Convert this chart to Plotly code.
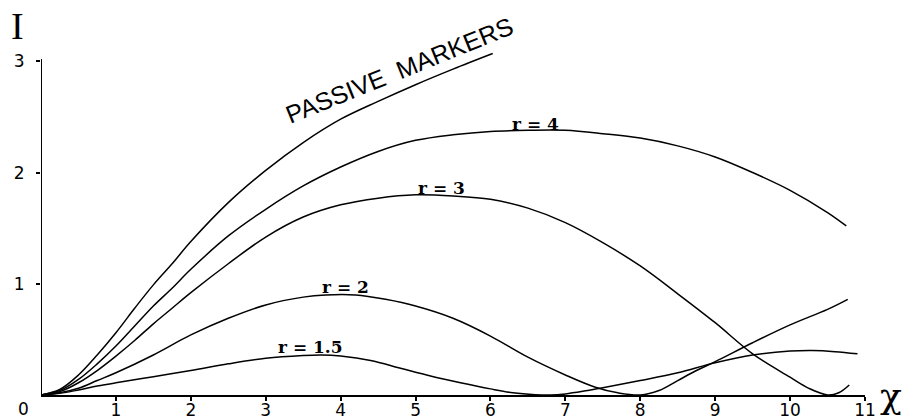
import plotly.graph_objects as go

# ---- data ----
passive_x = [0, 0.25, 0.5, 0.75, 1.0, 1.25, 1.5, 1.75, 2.0, 2.5, 3.0, 3.5, 4.0, 4.5, 5.0, 5.5, 6.03]
passive_y = [0, 0.05, 0.18, 0.36, 0.56, 0.78, 0.99, 1.18, 1.38, 1.73, 2.02, 2.27, 2.48, 2.64, 2.79, 2.93, 3.07]

r4_x = [0, 0.25, 0.5, 0.75, 1.0, 1.25, 1.5, 1.75, 2.0, 2.5, 3.0, 3.5, 4.0, 4.5, 5.0, 5.5, 6.0,
        6.5, 7.0, 7.5, 8.0, 8.5, 9.0, 9.5, 10.0, 10.5, 10.75]
r4_y = [0, 0.04, 0.14, 0.28, 0.44, 0.62, 0.8, 0.96, 1.13, 1.43, 1.67, 1.88, 2.05, 2.19, 2.29, 2.34, 2.37,
        2.38, 2.38, 2.35, 2.31, 2.24, 2.14, 2.0, 1.84, 1.64, 1.52]

r3_x = [0, 0.25, 0.5, 0.75, 1.0, 1.25, 1.5, 1.75, 2.0, 2.5, 3.0, 3.5, 4.0, 4.5, 5.0, 5.5, 6.0,
        6.5, 7.0, 7.5, 8.0, 8.5, 9.0, 9.5, 10.0, 10.25, 10.5, 10.65, 10.79]
r3_y = [0, 0.03, 0.11, 0.22, 0.35, 0.49, 0.64, 0.78, 0.92, 1.18, 1.42, 1.6, 1.71, 1.77, 1.8, 1.79, 1.76,
        1.68, 1.55, 1.37, 1.16, 0.91, 0.65, 0.37, 0.16, 0.06, 0.0, 0.02, 0.09]

r2_x = [0, 0.25, 0.5, 0.75, 1.0, 1.5, 2.0, 2.5, 3.0, 3.5, 3.8, 4.2, 4.6, 5.0, 5.5, 6.0, 6.5,
        7.0, 7.4, 7.7, 8.0, 8.25, 8.5, 8.75, 9.0, 9.5, 10.0, 10.5, 10.77]
r2_y = [0, 0.02, 0.06, 0.13, 0.2, 0.36, 0.54, 0.69, 0.81, 0.88, 0.9, 0.9, 0.86, 0.8, 0.69, 0.53, 0.34,
        0.18, 0.07, 0.02, 0.0, 0.04, 0.13, 0.22, 0.3, 0.47, 0.63, 0.77, 0.86]

r15_x = [0, 0.25, 0.5, 0.75, 1.0, 1.5, 2.0, 2.5, 3.0, 3.5, 3.75, 4.0, 4.4, 4.8, 5.2, 5.6, 6.0,
         6.3, 6.6, 6.8, 7.0, 7.25, 7.5, 8.0, 8.5, 9.0, 9.5, 10.0, 10.3, 10.6, 10.9]
r15_y = [0, 0.015, 0.045, 0.08, 0.11, 0.165, 0.22, 0.28, 0.33, 0.355, 0.36, 0.35, 0.31, 0.24, 0.17, 0.11, 0.055,
         0.02, 0.003, 0.0, 0.01, 0.035, 0.065, 0.13, 0.2, 0.29, 0.36, 0.395, 0.4, 0.39, 0.37]

x_ticks = [1, 2, 3, 4, 5, 6, 7, 8, 9, 10, 11]
y_ticks = [1, 2, 3]

series = [
    (passive_x, passive_y),
    (r4_x, r4_y),
    (r3_x, r3_y),
    (r2_x, r2_y),
    (r15_x, r15_y),
]

fig = go.Figure()
for xs, ys in series:
    fig.add_trace(go.Scatter(x=xs, y=ys, mode="lines",
                             line=dict(color="black", width=1.5, shape="spline", smoothing=1.0),
                             showlegend=False, hoverinfo="skip"))

tick_font = dict(family="DejaVu Sans", size=17, color="black")
label_font = dict(family="DejaVu Serif", size=17, color="black")

fig.update_layout(
    width=908, height=420, autosize=False,
    margin=dict(l=41, r=43, t=48, b=25, pad=0),
    paper_bgcolor="white", plot_bgcolor="white",
    xaxis=dict(range=[0, 11], tickvals=x_ticks, ticks="outside", ticklen=4, tickwidth=1.5,
               tickcolor="black", showline=True, linecolor="black", linewidth=2,
               showgrid=False, zeroline=False, tickfont=tick_font, fixedrange=True,
               automargin=False, ticklabelstandoff=-5),
    yaxis=dict(range=[0, 3.12], tickvals=y_ticks, ticks="outside", ticklen=4, tickwidth=1.5,
               tickcolor="black", showline=False, showgrid=False, zeroline=False,
               tickfont=tick_font, ticklabelstandoff=8, fixedrange=True, automargin=False),
)

# y axis line (stops at 3)
fig.add_shape(type="line", xref="x", yref="y", x0=0, x1=0, y0=0, y1=3.02,
              line=dict(color="black", width=2))

annots = [
    dict(text="<b>r = 4</b>", x=6.6, y=2.44),
    dict(text="<b>r = 3</b>", x=5.35, y=1.86),
    dict(text="<b>r = 2</b>", x=4.07, y=0.97),
    dict(text="<b>r = 1.5</b>", x=3.6, y=0.43),
]
for a in annots:
    fig.add_annotation(text=a["text"], x=a["x"], y=a["y"], xref="x", yref="y",
                       showarrow=False, font=label_font)

fig.add_annotation(text="PASSIVE  MARKERS", x=4.79, y=2.92, xref="x", yref="y",
                   showarrow=False, textangle=-22,
                   font=dict(family="Liberation Sans", size=25, color="black"))

fig.add_annotation(text="0", x=0, y=0, xref="x", yref="y", xshift=-18, yshift=-14,
                   showarrow=False, font=tick_font)
fig.add_annotation(text="I", x=-0.029, y=1.063, xref="paper", yref="paper",
                   xanchor="center", yanchor="middle",
                   showarrow=False, font=dict(family="Liberation Serif", size=38, color="black"))
fig.add_annotation(text="χ", x=1.031, y=0.0, xref="paper", yref="paper",
                   xanchor="center", yanchor="middle",
                   showarrow=False, font=dict(family="DejaVu Serif", size=36, color="black"))

fig.write_html("out.html")
